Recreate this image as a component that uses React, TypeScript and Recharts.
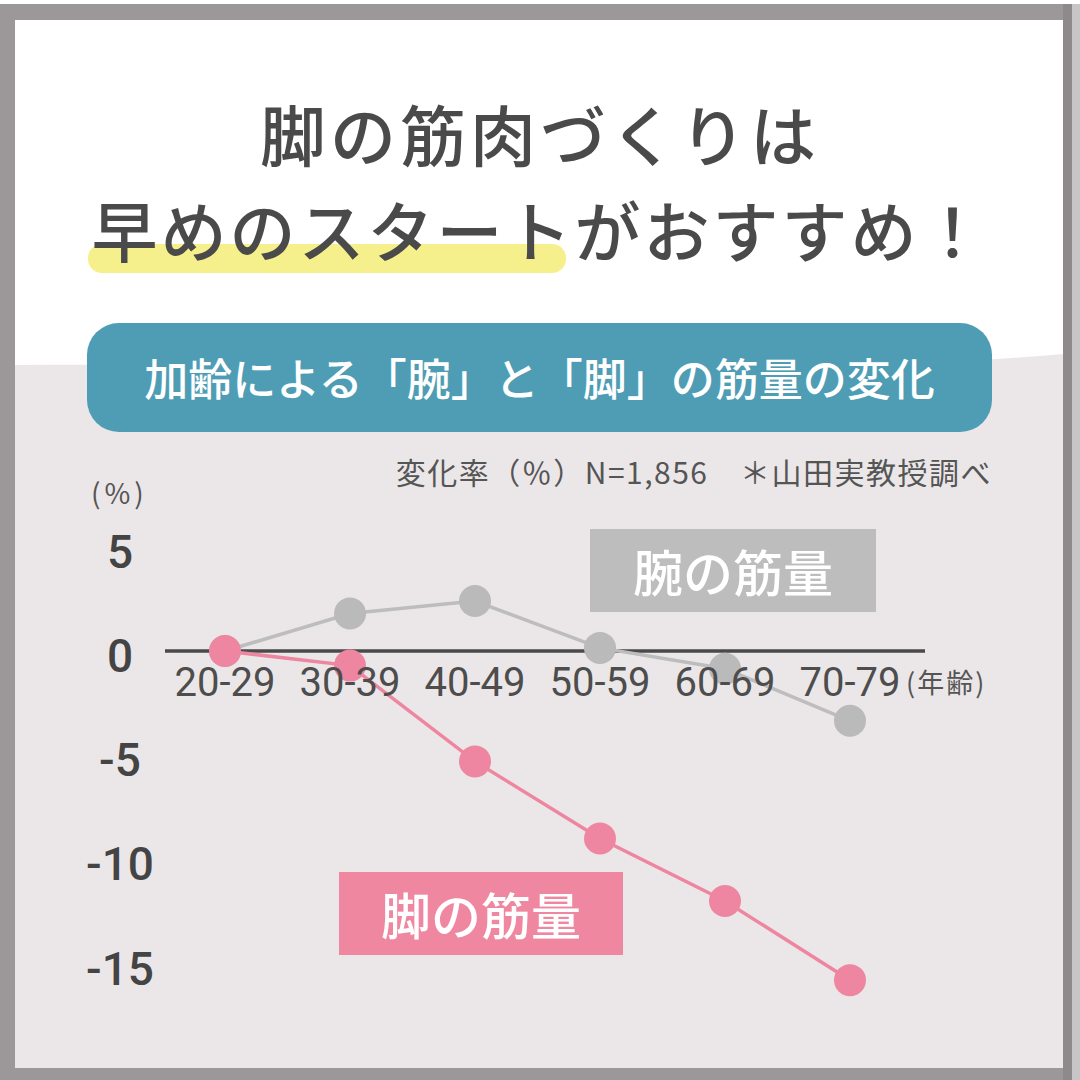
import React from 'react';
import { LineChart, Line, XAxis, YAxis, ReferenceLine } from 'recharts';

const ageGroups = ['20-29', '30-39', '40-49', '50-59', '60-69', '70-79'];
const armChange = [0, 1.8, 2.4, 0.15, -0.85, -3.35];
const legChange = [0, -0.7, -5.3, -9.0, -12.0, -15.8];
const yTicks = [5, 0, -5, -10, -15];
const Y_MIN = -18;
const Y_MAX = 6;

const data = ageGroups.map((age, i) => ({ age, arm: armChange[i], leg: legChange[i] }));

const CHART_W = 1080;
const CHART_H = 1080;
const M_TOP = 526;
const M_BOTTOM = 53;
const X_AXIS_H = 1;
const PLOT_H = CHART_H - M_TOP - M_BOTTOM - X_AXIS_H;
const ZERO_Y = M_TOP + (PLOT_H * Y_MAX) / (Y_MAX - Y_MIN);

const CJK = '"Noto Sans CJK JP", "Noto Sans", sans-serif';
const NUM = 'Roboto, "Noto Sans", sans-serif';

const XTick = (props: any) => {
  const { x, payload } = props;
  return (
    <text x={x} y={ZERO_Y + 45} textAnchor="middle" fontSize={40} fontFamily={NUM} fill="#4d4d4d">
      {payload.value}
    </text>
  );
};

const YTick = (props: any) => {
  const { y, payload } = props;
  return (
    <text x={120} y={y + 5} textAnchor="middle" dominantBaseline="central" fontSize={46} fontWeight={500} fontFamily={NUM} fill="#444">
      {payload.value}
    </text>
  );
};

export default function App() {
  return (
    <div style={{ position: 'absolute', left: 0, top: 0, width: 1080, height: 1080, background: '#9c9899', overflow: 'hidden' }}>
      <div style={{ position: 'absolute', left: 0, top: 0, width: 1080, height: 4, background: '#ffffff' }} />
      <div style={{ position: 'absolute', left: 1063, top: 4, width: 9, height: 1076, background: '#8e8a8b' }} />
      <div style={{ position: 'absolute', left: 1072, top: 4, width: 8, height: 1076, background: '#c8c5c6' }} />
      <div style={{ position: 'absolute', left: 15, top: 20, width: 1048, height: 1048, background: '#ffffff', overflow: 'hidden' }}>
        <svg width={1048} height={1048} style={{ position: 'absolute', left: 0, top: 0 }}>
          <path d="M0,345 C300,342 700,364 1048,334 L1048,1048 L0,1048 Z" fill="#ebe7e8" />
        </svg>
      </div>

      {/* Yellow highlight */}
      <div style={{ position: 'absolute', left: 88, top: 244, width: 478, height: 29, borderRadius: 14, background: '#f6f08c' }} />

      {/* Title */}
      <div style={{ position: 'absolute', left: 0, top: 99, width: 1080, textAlign: 'center', fontFamily: CJK, fontSize: 66, lineHeight: '66px', fontWeight: 500, color: '#4a4a4a', letterSpacing: 4 }}>
        脚の筋肉づくりは
      </div>
      <div style={{ position: 'absolute', left: 0, top: 195, width: 1080, textAlign: 'center', fontFamily: CJK, fontSize: 66, lineHeight: '66px', fontWeight: 500, color: '#4a4a4a', letterSpacing: 3 }}>
        早めのスタートがおすすめ！
      </div>

      {/* Banner */}
      <div style={{ position: 'absolute', left: 87, top: 323, width: 905, height: 109, borderRadius: 32, background: '#4e9db4', color: '#ffffff', fontFamily: CJK, fontSize: 44, fontWeight: 500, lineHeight: '109px', textAlign: 'center' }}>
        加齢による「腕」と「脚」の筋量の変化
      </div>

      {/* Note */}
      <div style={{ position: 'absolute', right: 88, top: 452, fontFamily: CJK, fontSize: 30, lineHeight: '38px', color: '#555', whiteSpace: 'nowrap', letterSpacing: 1.5 }}>
        変化率（％）N=1,856　＊山田実教授調べ
      </div>
      <div style={{ position: 'absolute', left: 91, top: 475, fontFamily: CJK, fontSize: 28, lineHeight: '34px', color: '#555', letterSpacing: 4 }}>
        (%)
      </div>
      <div style={{ position: 'absolute', left: 906, top: 665, fontFamily: CJK, fontSize: 27, lineHeight: '34px', color: '#555', whiteSpace: 'nowrap', letterSpacing: 2 }}>
        (年齢)
      </div>

      {/* Series labels */}
      <div style={{ position: 'absolute', left: 590, top: 529, width: 286, height: 83, background: '#bdbdbd', color: '#fff', fontFamily: CJK, fontSize: 50, fontWeight: 500, lineHeight: '83px', textAlign: 'center' }}>
        腕の筋量
      </div>
      <div style={{ position: 'absolute', left: 339, top: 872, width: 284, height: 83, background: '#ef87a1', color: '#fff', fontFamily: CJK, fontSize: 50, fontWeight: 500, lineHeight: '83px', textAlign: 'center' }}>
        脚の筋量
      </div>

      <div style={{ position: 'absolute', left: 0, top: 0 }}>
        <LineChart width={CHART_W} height={CHART_H} data={data} margin={{ top: M_TOP, right: 155, bottom: M_BOTTOM, left: 105 }}>
          <XAxis
            dataKey="age"
            height={X_AXIS_H}
            padding={{ left: 60, right: 75 }}
            axisLine={false}
            tickLine={false}
            interval={0}
            tick={XTick}
          />
          <YAxis
            width={60}
            type="number"
            domain={[Y_MIN, Y_MAX]}
            ticks={yTicks}
            interval={0}
            axisLine={false}
            tickLine={false}
            tick={YTick}
          />
          <ReferenceLine y={0} stroke="#4a4a4a" strokeWidth={3.5} />
          <Line
            dataKey="arm"
            stroke="#bdbdbd"
            strokeWidth={3.5}
            dot={{ r: 16, fill: '#bababa', stroke: 'none' }}
            activeDot={false}
            isAnimationActive={false}
          />
          <Line
            dataKey="leg"
            stroke="#ee86a1"
            strokeWidth={3.5}
            dot={{ r: 16, fill: '#ee86a1', stroke: 'none' }}
            activeDot={false}
            isAnimationActive={false}
          />
        </LineChart>
      </div>
    </div>
  );
}
